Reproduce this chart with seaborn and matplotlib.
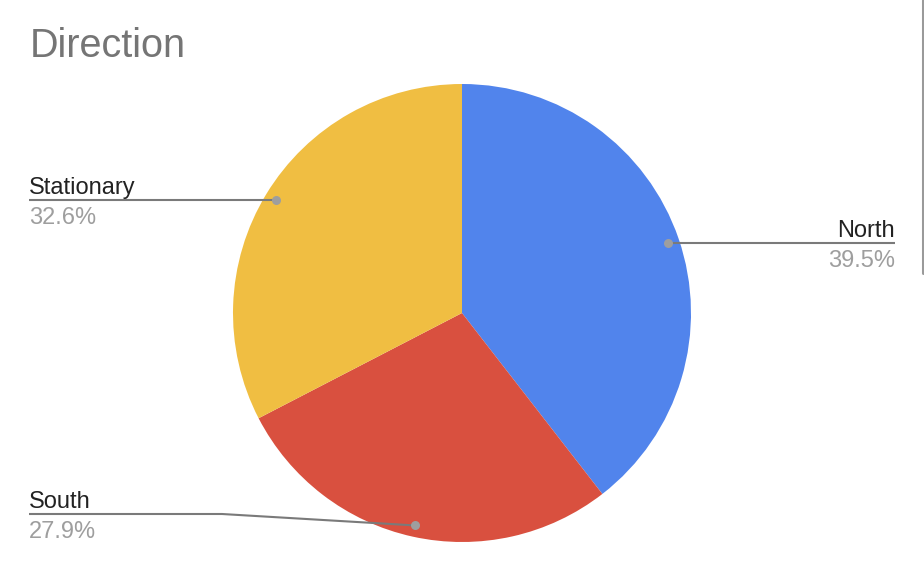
import numpy as np
import matplotlib
matplotlib.use('Agg')
import matplotlib.pyplot as plt
import seaborn as sns

# data
labels = ['North', 'South', 'Stationary']
values = [39.5, 27.9, 32.6]
colors = ['#5184EC', '#D9503F', '#F0BE42']
title = 'Direction'

W, H = 924, 568
CX, CY, R = 462, H - 313, 229

sns.set_style('white')
plt.rcParams['font.family'] = ['Liberation Sans', 'DejaVu Sans']

fig = plt.figure(figsize=(W / 100, H / 100), dpi=100)
ax = fig.add_axes([0, 0, 1, 1])

ax.pie(values, colors=colors, startangle=90, counterclock=False,
       center=(CX, CY), radius=R, wedgeprops=dict(linewidth=0))
ax.set_xlim(0, W)
ax.set_ylim(0, H)
ax.set_aspect('auto')
ax.axis('off')

# leader dot position: mid-angle of each slice at 0.95 of radius
cum = np.cumsum([0] + values)
total = sum(values)
mids = (cum[:-1] + cum[1:]) / 2 / total * 2 * np.pi
dots = [(CX + 0.95 * R * np.sin(a), CY + 0.95 * R * np.cos(a)) for a in mids]

# label layout (screen pixels): text x, alignment, line y, extra bend point
layout = {
    'North': dict(x_text=895, ha='right', y_line=242, bend=None),
    'South': dict(x_text=29, ha='left', y_line=514, bend=222),
    'Stationary': dict(x_text=29, ha='left', y_line=199, bend=None),
}

line_col = '#7a7a7a'
for lab, val, (dx, dy) in zip(labels, values, dots):
    lay = layout[lab]
    if lay['bend'] is None:
        # straight horizontal leader at the dot's height
        xs, ys = [lay['x_text'], dx], [dy, dy]
        yl = H - dy
    else:
        yl = lay['y_line']
        xs = [lay['x_text'], lay['bend'], dx]
        ys = [H - yl, H - yl, dy]
    ax.plot(xs, ys, color=line_col, lw=1.5, solid_capstyle='butt', zorder=3)
    ax.plot(dx, dy, 'o', ms=6.5, color='#9e9e9e', mec='none', zorder=4)
    ax.text(lay['x_text'], H - (yl - 6), lab, ha=lay['ha'], va='baseline',
            fontsize=17, color='#222222')
    ax.text(lay['x_text'], H - (yl + 24), f'{val:.1f}%', ha=lay['ha'], va='baseline',
            fontsize=17, color='#9e9e9e')

ax.text(30, H - 57, title, ha='left', va='baseline', fontsize=28.5, color='#757575')

# scrollbar edge at the right of the screenshot
ax.plot([922.5, 922.5], [H, H - 273], color='#9a9a9a', lw=2.2)

fig.savefig('out.png', dpi=100)
